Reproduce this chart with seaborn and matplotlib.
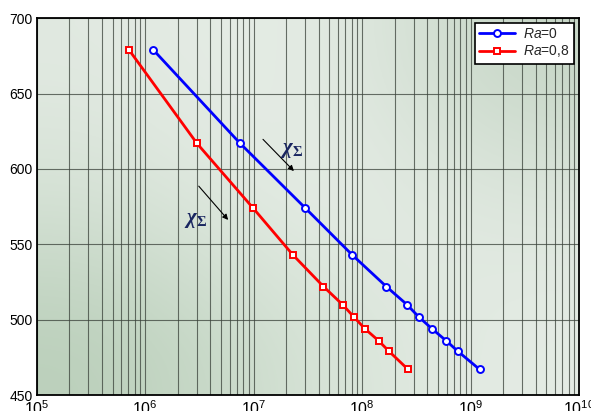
import numpy as np
import pandas as pd
import matplotlib
matplotlib.use("Agg")
import matplotlib.pyplot as plt
import seaborn as sns
import matplotlib.ticker as mticker

# ---- data ----
y_vals = [679, 617, 574, 543, 522, 510, 502, 494, 486, 479, 467]
x_ra0 = [1.19e6, 7.5e6, 3.0e7, 8.1e7, 1.67e8, 2.59e8, 3.31e8, 4.40e8, 5.96e8, 7.64e8, 1.21e9]
x_ra08 = [7.1e5, 3.0e6, 9.9e6, 2.3e7, 4.4e7, 6.6e7, 8.35e7, 1.06e8, 1.42e8, 1.77e8, 2.65e8]
labels = [r"$\mathsf{Ra}$=0", r"$\mathsf{Ra}$=0,8"]
y_ticks = [450, 500, 550, 600, 650, 700]
x_lim = (1e5, 1e10)

sns.set_theme(style="white")
plt.rcParams['font.family'] = ['Liberation Sans', 'DejaVu Sans']
plt.rcParams['mathtext.fontset'] = 'custom'
plt.rcParams['mathtext.rm'] = 'Liberation Sans'
plt.rcParams['mathtext.sf'] = 'Liberation Sans:italic'
plt.rcParams['mathtext.it'] = 'Liberation Serif:italic:bold'
plt.rcParams['mathtext.bf'] = 'Liberation Serif:bold'

fig = plt.figure(figsize=(5.91, 4.11), dpi=100)
ax = fig.add_axes([0.0621, 0.0389, 0.9177, 0.9166])

# background gradient
grid = np.array([
    [[225, 233, 225], [233, 239, 233], [198, 214, 198]],
    [[212, 225, 212], [233, 239, 233], [222, 231, 222]],
    [[186, 207, 186], [214, 227, 214], [229, 236, 229]],
], dtype=float) / 255.0
ax.imshow(grid, extent=[0, 1, 0, 1], transform=ax.transAxes, aspect='auto',
          interpolation='bicubic', zorder=0)

df0 = pd.DataFrame({"x": x_ra0, "y": y_vals})
df1 = pd.DataFrame({"x": x_ra08, "y": y_vals})
sns.lineplot(data=df0, x="x", y="y", ax=ax, color="#0000ff", linewidth=2,
             marker="o", markersize=5, markerfacecolor="white",
             markeredgecolor="#0000ff", markeredgewidth=1.4, label=labels[0], zorder=5)
sns.lineplot(data=df1, x="x", y="y", ax=ax, color="#ff0000", linewidth=2,
             marker="s", markersize=5, markerfacecolor="white",
             markeredgecolor="#ff0000", markeredgewidth=1.4, label=labels[1], zorder=5)

ax.set_xscale("log")
ax.set_xlim(*x_lim)
ax.set_ylim(450, 700)
ax.set_yticks(y_ticks)
ax.xaxis.set_major_locator(mticker.LogLocator(base=10, numticks=10))
ax.xaxis.set_major_formatter(mticker.FuncFormatter(
    lambda v, p: r"$\mathregular{10^{%d}}$" % int(round(np.log10(v)))))
ax.xaxis.set_minor_locator(mticker.LogLocator(base=10, subs=np.arange(2, 10), numticks=100))
ax.xaxis.set_minor_formatter(mticker.NullFormatter())
ax.set_xlabel("")
ax.set_ylabel("")

ax.grid(True, which="both", axis="x", color="#3a423a", linewidth=0.8, alpha=0.75, zorder=1)
ax.grid(True, which="major", axis="y", color="#3a423a", linewidth=0.8, alpha=0.75, zorder=1)
for l in ax.get_xgridlines() + ax.get_ygridlines():
    l.set_zorder(1)

for s in ax.spines.values():
    s.set_color("black")
    s.set_linewidth(1.3)
    s.set_zorder(6)

ax.tick_params(axis="y", which="major", labelsize=10, length=0, pad=3, colors="black")
ax.tick_params(axis="x", which="major", labelsize=11.5, length=0, pad=3, colors="black")
ax.tick_params(axis="x", which="minor", length=0)

leg = ax.legend(loc="upper right", fontsize=10, frameon=True, fancybox=False,
                edgecolor="black", framealpha=1, borderpad=0.3, handlelength=2.6,
                handletextpad=0.6, labelspacing=0.15, borderaxespad=0.35)
leg.get_frame().set_linewidth(1.2)
leg.set_zorder(10)

# annotations
arrow_kw = dict(arrowstyle="-|>", color="black", lw=0.8, mutation_scale=8)
ax.annotate("", xy=(2.45e7, 597.3), xytext=(1.17e7, 621), arrowprops=arrow_kw, zorder=7)
ax.annotate("", xy=(6.05e6, 564.8), xytext=(3.0e6, 590), arrowprops=arrow_kw, zorder=7)
chi = r"$\mathit{\chi}_{\mathbf{\Sigma}}$"
for (tx, ty) in [(2.25e7, 612.5), (2.9e6, 566)]:
    ax.text(tx, ty, chi, fontsize=15, color="#1a2660",
            ha="center", va="center", zorder=7)

fig.savefig("out.png", dpi=100)
